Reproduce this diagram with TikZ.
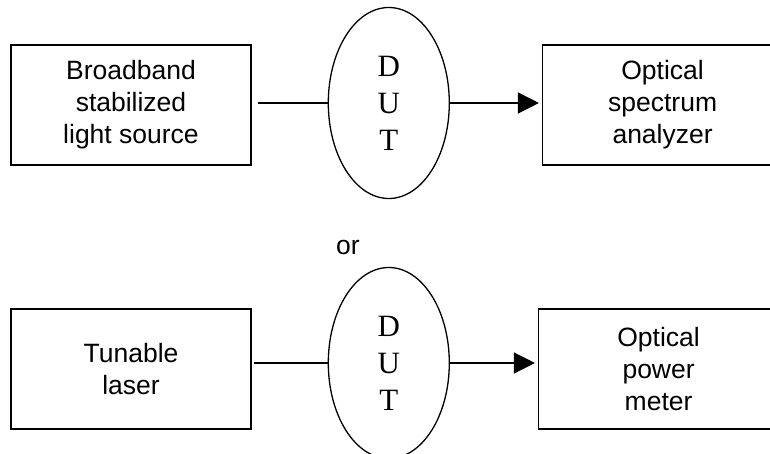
\documentclass[tikz,border=0pt]{standalone}
\usepackage{fontspec}
\setmainfont{Liberation Sans}
\newfontfamily\dutfont{Liberation Serif}
\usepackage{tikz}
\usetikzlibrary{arrows.meta,positioning,shapes.geometric}
\tikzset{
  unitbox/.style={rectangle, draw=black, line width=1.3pt, fill=white,
                  align=center, font=\fontsize{26.5}{32}\selectfont,
                  minimum width=240pt, minimum height=120pt, inner sep=0pt},
  dut/.style={ellipse, draw=black, line width=1.3pt, align=center,
              font=\dutfont\fontsize{31}{37}\selectfont,
              minimum width=121pt, minimum height=191pt, inner sep=0pt},
  link/.style={line width=1.3pt, draw=black},
  flow/.style={link, -{Triangle[length=21pt, width=21pt]}},
  lbl/.style={font=\fontsize{26.5}{32}\selectfont},
}
\begin{document}
\begin{tikzpicture}[x=1pt, y=1pt]
  \useasboundingbox (0,0) rectangle (770,453);
  \clip (0,0) rectangle (770,453);
  % upper set-up
  \node[unitbox] (src1) at (131,348) {Broadband\\stabilized\\light source};
  \node[dut, right=76pt of src1, yshift=2pt] (dut1) {D\\U\\T};
  \node[unitbox, right=92pt of dut1, yshift=-2pt] (dst1) {Optical\\spectrum\\analyzer};

  \node[lbl] (or) at (348,206) {or};

  % lower set-up
  \node[unitbox] (src2) at (131,84) {Tunable\\laser};
  \node[dut, right=76pt of src2, yshift=6pt] (dut2) {D\\U\\T};
  \node[unitbox, right=88pt of dut2, yshift=-6pt] (dst2) {Optical\\power\\meter};

  \draw[link, shorten <=6pt] (dut1.west -| src1.east) -- (dut1.west);
  \draw[flow, shorten >=3pt] (dut1.east) -- (dut1.east -| dst1.west);
  \draw[link, shorten <=2pt] (dut2.west -| src2.east) -- (dut2.west);
  \draw[flow, shorten >=3pt] (dut2.east) -- (dut2.east -| dst2.west);
\end{tikzpicture}
\end{document}
